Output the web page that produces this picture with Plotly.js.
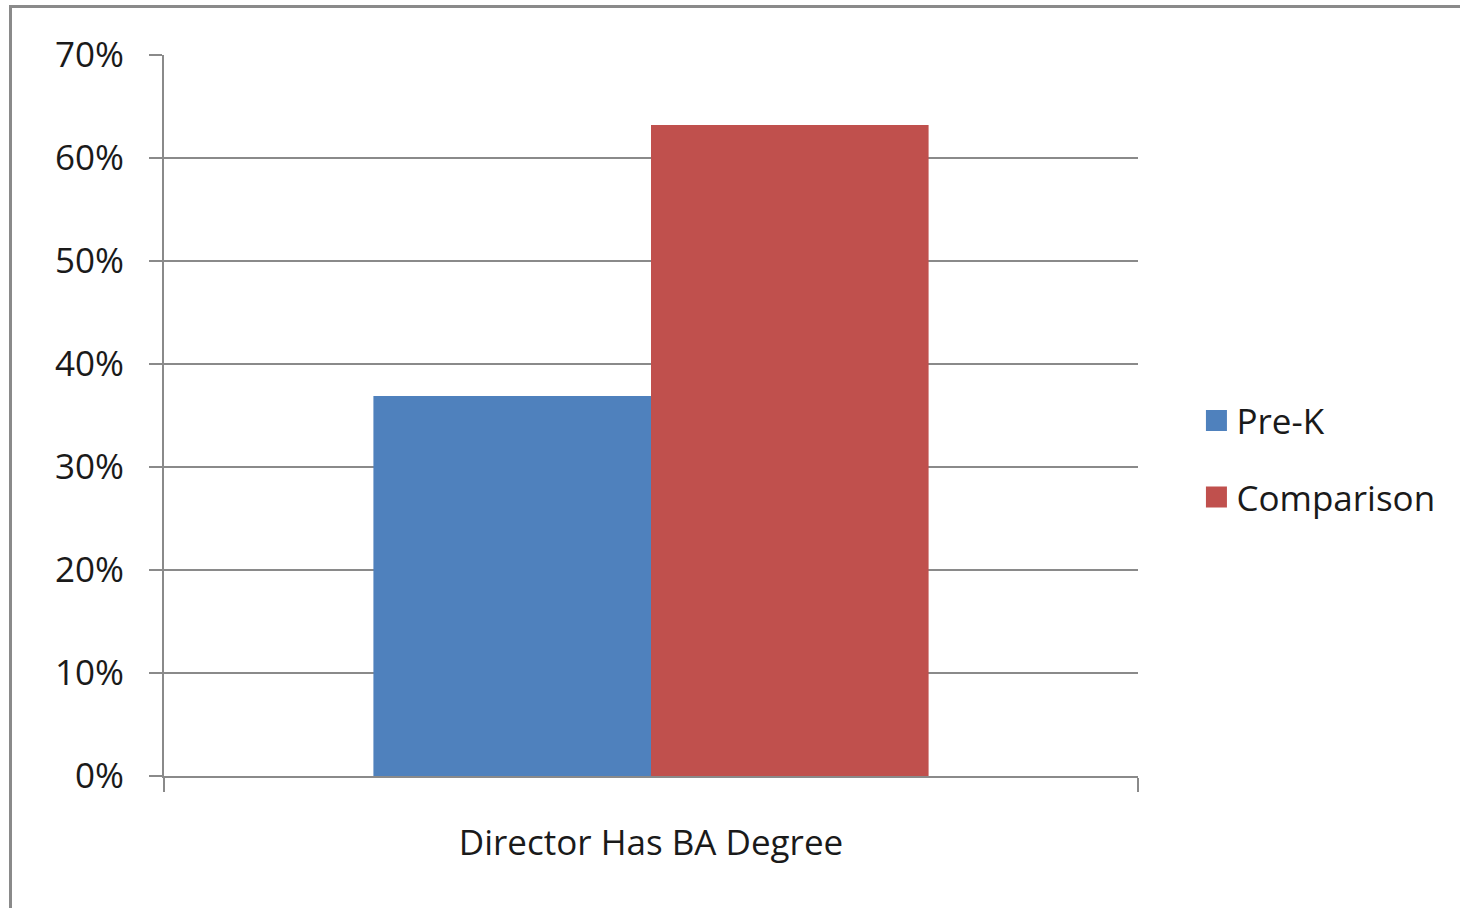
<!DOCTYPE html>
<html>
<head>
<meta charset="utf-8">
<script src="https://cdn.plot.ly/plotly-3.0.1.min.js"></script>
<style>
  html, body { margin:0; padding:0; background:#fff; }
  #frame { position:absolute; left:9px; top:5px; width:1451px; height:903px;
           border-left:3px solid #8a8a8a; border-top:3px solid #8a8a8a; box-sizing:border-box; }
  #chart { position:absolute; left:0; top:0; width:1460px; height:908px; }
</style>
</head>
<body>
<div id="frame"></div>
<div id="chart"></div>
<script>
const categories = ["Director Has BA Degree"];
const seriesNames = ["Pre-K", "Comparison"];
const preK = [0.369];
const comparison = [0.632];
const yTicks = [0, 0.1, 0.2, 0.3, 0.4, 0.5, 0.6, 0.7];
const yTickLabels = ["0%", "10%", "20%", "30%", "40%", "50%", "60%", "70%"];

const font = {family: "Open Sans, Liberation Sans, sans-serif", size: 35, color: "#1a1a1a"};

const traces = [
  {type: "bar", name: seriesNames[0], legendgroup: "g1", x: categories, y: preK, marker: {color: "#4F81BD"}},
  {type: "bar", name: seriesNames[1], legendgroup: "g2", x: categories, y: comparison, marker: {color: "#C0504D"}}
];

const layout = {
  width: 1460, height: 908,
  margin: {l: 164, r: 322, t: 55, b: 132},
  paper_bgcolor: "rgba(0,0,0,0)", plot_bgcolor: "rgba(0,0,0,0)",
  font: font,
  barmode: "group", bargap: 0.43, bargroupgap: 0,
  showlegend: true,
  legend: {x: 1.060, xanchor: "left", y: 0.44, yanchor: "middle", font: font,
           itemwidth: 30, tracegroupgap: 28, traceorder: "grouped", bgcolor: "rgba(0,0,0,0)"},
  xaxis: {type: "category", showline: true, linecolor: "#8a8a8a", linewidth: 2,
          ticks: "outside", tickson: "boundaries", ticklen: 14, tickcolor: "#8a8a8a", tickwidth: 2,
          ticklabelstandoff: 35, tickfont: font, showgrid: false, zeroline: false},
  yaxis: {range: [0, 0.7], tickvals: yTicks, ticktext: yTickLabels,
          showline: true, linecolor: "#8a8a8a", linewidth: 2,
          ticks: "outside", ticklen: 13, tickcolor: "#8a8a8a", tickwidth: 2,
          ticklabelstandoff: 18, tickfont: font,
          showgrid: true, gridcolor: "#8a8a8a", gridwidth: 1.5, zeroline: false}
};

Plotly.newPlot("chart", traces, layout, {displayModeBar: false, staticPlot: true}).then(function () {
  document.querySelectorAll("#chart .legendpoints path").forEach(function (p) {
    p.setAttribute("d", "M10.5,10.5H-10.5V-10.5H10.5Z");
  });
});
</script>
</body>
</html>
